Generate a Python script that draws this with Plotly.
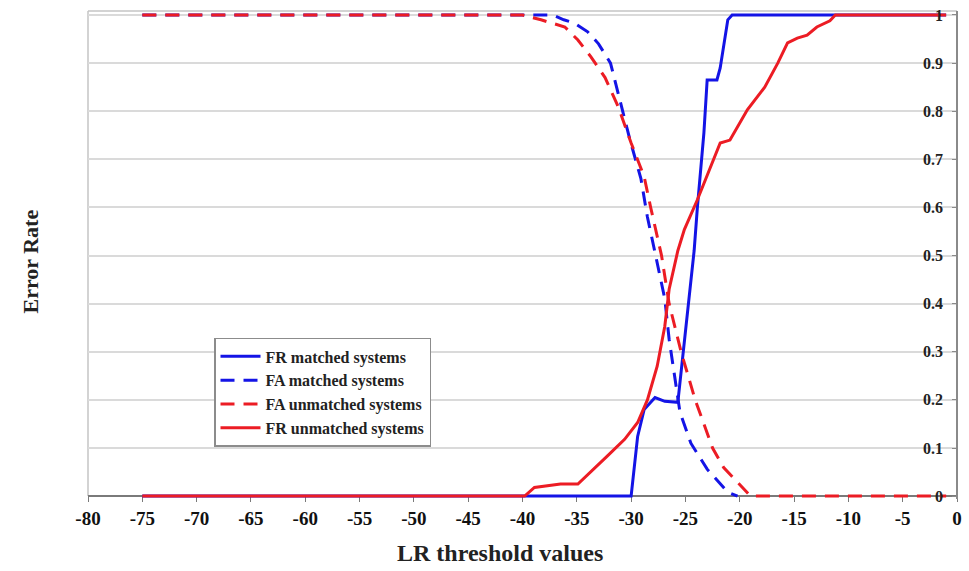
import plotly.graph_objects as go

# LR threshold sweep: error rates for matched / unmatched systems
fr_matched_x = [-75, -30.0, -29.4, -28.8, -27.8, -26.9, -25.7, -25.5, -25.0, -24.2,
                -23.9, -23.3, -23.0, -22.1, -21.8, -21.1, -20.7, -1]
fr_matched_y = [0, 0, 0.124, 0.18, 0.205, 0.197, 0.195, 0.236, 0.34, 0.51,
                0.60, 0.755, 0.865, 0.865, 0.89, 0.99, 1.0, 1.0]

fa_matched_x = [-75, -37.2, -36.2, -35.2, -34.0, -33.0, -31.9, -31.0, -30.1, -29.1,
                -28.5, -27.8, -26.9, -26.5, -26.0, -25.5, -24.5, -23.0, -21.1, -20.2]
fa_matched_y = [1, 1, 0.99, 0.983, 0.965, 0.94, 0.90, 0.82, 0.74, 0.66,
                0.58, 0.506, 0.41, 0.326, 0.25, 0.174, 0.11, 0.056, 0.008, 0]

fa_unmatched_x = [-75, -40, -38.3, -36.1, -34.9, -33.7, -32.4, -31.2, -30.0, -28.8,
                  -28.2, -27.2, -26.5, -25.4, -24.1, -22.5, -21.5, -20.2, -19.0, -1]
fa_unmatched_y = [1, 1, 0.99, 0.975, 0.948, 0.913, 0.87, 0.81, 0.734, 0.664,
                  0.60, 0.50, 0.40, 0.30, 0.20, 0.10, 0.06, 0.029, 0, 0]

fr_unmatched_x = [-75, -39.8, -38.9, -37.7, -36.5, -34.9, -33.7, -32.2, -30.6, -29.4,
                  -28.5, -27.6, -26.9, -26.5, -25.7, -25.1, -23.9, -22.7, -21.8, -20.9,
                  -19.3, -17.7, -16.5, -15.6, -14.7, -13.8, -12.9, -11.7, -11.2, -1]
fr_unmatched_y = [0, 0, 0.018, 0.021, 0.025, 0.025, 0.05, 0.083, 0.118, 0.153,
                  0.20, 0.27, 0.353, 0.43, 0.51, 0.554, 0.616, 0.685, 0.734, 0.74,
                  0.803, 0.85, 0.90, 0.942, 0.952, 0.958, 0.975, 0.988, 1.0, 1.0]

x_ticks = list(range(-80, 1, 5))
y_ticks = [0, 0.1, 0.2, 0.3, 0.4, 0.5, 0.6, 0.7, 0.8, 0.9, 1]
y_tick_text = ["0", "0.1", "0.2", "0.3", "0.4", "0.5", "0.6", "0.7", "0.8", "0.9", "1"]

BLUE = "#1414e6"
RED = "#ec1c24"
SERIF = "Liberation Serif"
DASH = "14px,9px"

# small headroom below zero so the lines lying on y = 0 are not clipped
Y_MIN, Y_MAX = -0.006, 1.0083
zero_pos = (0 - Y_MIN) / (Y_MAX - Y_MIN)

fig = go.Figure()
fig.add_trace(go.Scatter(x=fr_matched_x, y=fr_matched_y, mode="lines",
                         name="FR matched systems",
                         line=dict(color=BLUE, width=3)))
fig.add_trace(go.Scatter(x=fa_matched_x, y=fa_matched_y, mode="lines",
                         name="FA matched systems",
                         line=dict(color=BLUE, width=3, dash=DASH)))
fig.add_trace(go.Scatter(x=fa_unmatched_x, y=fa_unmatched_y, mode="lines",
                         name="FA unmatched systems",
                         line=dict(color=RED, width=3, dash=DASH)))
fig.add_trace(go.Scatter(x=fr_unmatched_x, y=fr_unmatched_y, mode="lines",
                         name="FR unmatched systems",
                         line=dict(color=RED, width=3)))

fig.update_layout(
    width=969, height=571,
    margin=dict(l=88, r=7, t=11, b=72),
    paper_bgcolor="white", plot_bgcolor="white",
    showlegend=True,
    legend=dict(x=0.145, y=0.33, xanchor="left", yanchor="top",
                bgcolor="white", bordercolor="#8c8c8c", borderwidth=1.5,
                font=dict(family=SERIF, size=16, color="#222", weight="bold"),
                itemwidth=40, tracegroupgap=0),
    # category axis crosses the value axis at y = 0
    xaxis=dict(range=[-80, 0], tickmode="array", tickvals=x_ticks,
               ticktext=[str(v) for v in x_ticks],
               anchor="free", position=zero_pos, layer="below traces",
               showgrid=False, zeroline=False,
               showline=True, linecolor="#7a7a7a", linewidth=1.5,
               ticks="outside", ticklen=5, tickcolor="#7a7a7a",
               tickfont=dict(family=SERIF, size=19, color="#111", weight="bold")),
    # value axis sits at x = 0 (right edge) with its labels on the inner side
    yaxis=dict(range=[Y_MIN, Y_MAX], side="left", anchor="free", position=1,
               tickmode="array", tickvals=y_ticks, ticktext=y_tick_text,
               ticklabelstandoff=6,
               showgrid=True, gridcolor="#dadada", gridwidth=1.5,
               zeroline=False,
               showline=True, linecolor="#8a8a8a", linewidth=1.5,
               ticks="outside", ticklen=4, tickcolor="#8a8a8a",
               tickfont=dict(family=SERIF, size=16, color="#222", weight="bold")),
)

# light frame on the left and top of the plot area
fig.add_shape(type="line", xref="paper", yref="paper", x0=0, x1=0, y0=zero_pos, y1=1,
              line=dict(color="#c4c4c4", width=1.5), layer="below")
fig.add_shape(type="line", xref="paper", yref="paper", x0=0, x1=1, y0=1, y1=1,
              line=dict(color="#c4c4c4", width=1.5), layer="below")

fig.add_annotation(text="Error Rate", xref="paper", yref="paper",
                   x=-0.066, y=0.486, xanchor="center", yanchor="middle",
                   textangle=-90, showarrow=False,
                   font=dict(family=SERIF, size=22, color="#222", weight="bold"))
fig.add_annotation(text="LR threshold values", xref="paper", yref="paper",
                   x=0.474, y=-0.111, xanchor="center", yanchor="middle",
                   showarrow=False,
                   font=dict(family=SERIF, size=24, color="#222", weight="bold"))

fig.write_html("out.html")
